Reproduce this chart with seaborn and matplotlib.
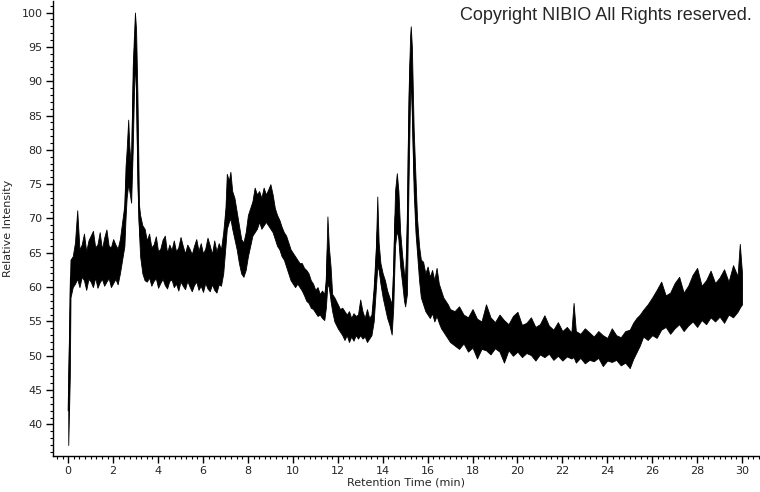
import numpy as np
import pandas as pd
import matplotlib
matplotlib.use("Agg")
import matplotlib.pyplot as plt
from matplotlib.ticker import MultipleLocator
import seaborn as sns

# retention time (min) and the lower / upper edge of the noisy trace
times = [0.0, 0.07, 0.1, 0.2, 0.3, 0.4, 0.5, 0.6, 0.7, 0.8, 0.9, 1.0, 1.1, 1.2, 1.3, 1.4, 1.5, 1.6, 1.7, 1.8,
         1.9, 2.0, 2.1, 2.2, 2.3, 2.4, 2.5, 2.55, 2.6, 2.67, 2.72, 2.8, 2.87, 2.93, 2.97, 3.02, 3.08, 3.15, 3.2, 3.3,
         3.4, 3.5, 3.6, 3.7, 3.8, 3.9, 4.0, 4.1, 4.2, 4.3, 4.4, 4.5, 4.6, 4.7, 4.8, 4.9, 5.0, 5.1, 5.2, 5.3,
         5.4, 5.5, 5.6, 5.7, 5.8, 5.9, 6.0, 6.1, 6.2, 6.3, 6.4, 6.5, 6.6, 6.7, 6.8, 6.9, 7.0, 7.06, 7.15, 7.22,
         7.3, 7.4, 7.5, 7.6, 7.7, 7.8, 7.9, 8.0, 8.1, 8.2, 8.3, 8.4, 8.5, 8.6, 8.7, 8.8, 8.9, 9.0, 9.1, 9.2,
         9.3, 9.4, 9.5, 9.6, 9.7, 9.8, 9.9, 10.0, 10.1, 10.2, 10.3, 10.4, 10.5, 10.6, 10.7, 10.8, 10.9, 11.0, 11.1, 11.2,
         11.3, 11.4, 11.47, 11.54, 11.6, 11.68, 11.75, 11.85, 12.0, 12.1, 12.2, 12.3, 12.4, 12.5, 12.6, 12.7, 12.8, 12.9, 13.0, 13.1,
         13.2, 13.3, 13.4, 13.5, 13.6, 13.7, 13.76, 13.82, 13.9, 14.0, 14.1, 14.2, 14.3, 14.4, 14.47, 14.55, 14.63, 14.7, 14.78, 14.87,
         14.95, 15.0, 15.08, 15.15, 15.22, 15.25, 15.3, 15.38, 15.46, 15.53, 15.62, 15.7, 15.8, 15.9, 16.0, 16.1, 16.2, 16.3, 16.4, 16.5,
         16.6, 16.7, 16.8, 16.9, 17.0, 17.2, 17.4, 17.6, 17.8, 18.0, 18.2, 18.4, 18.6, 18.8, 19.0, 19.2, 19.4, 19.6, 19.8, 20.0,
         20.2, 20.4, 20.6, 20.8, 21.0, 21.2, 21.4, 21.6, 21.8, 22.0, 22.2, 22.4, 22.5, 22.6, 22.8, 23.0, 23.2, 23.4, 23.6, 23.8,
         24.0, 24.2, 24.4, 24.6, 24.8, 25.0, 25.15, 25.3, 25.45, 25.6, 25.8, 26.0, 26.2, 26.4, 26.6, 26.8, 27.0, 27.2, 27.4, 27.6,
         27.8, 28.0, 28.2, 28.4, 28.6, 28.8, 29.0, 29.2, 29.4, 29.6, 29.8, 29.9, 30.0]

low = [37.0, 47.0, 58.5, 60.0, 60.5, 61.2, 60.0, 61.5, 61.0, 59.6, 61.2, 60.8, 60.0, 61.4, 59.9, 60.7, 61.2, 60.2, 60.8, 61.3,
       60.0, 60.6, 61.2, 60.4, 62.0, 64.0, 66.0, 70.0, 73.0, 75.0, 74.0, 72.3, 80.0, 89.0, 93.0, 88.0, 75.0, 68.0, 64.5, 62.0,
       61.0, 60.8, 61.4, 60.2, 60.9, 61.3, 59.9, 60.6, 61.2, 60.3, 59.8, 60.9, 61.1, 60.0, 60.5, 59.5, 60.8, 60.2, 59.7, 60.9,
       60.1, 59.4, 60.3, 60.8, 59.6, 60.2, 59.3, 60.6, 59.8, 59.4, 60.4, 59.6, 59.2, 60.4, 60.2, 62.0, 66.0, 68.5, 69.5, 70.0,
       68.5, 67.0, 65.5, 63.5, 62.0, 61.5, 62.5, 64.5, 66.0, 67.5, 68.0, 68.5, 69.5, 68.5, 69.0, 69.5, 69.0, 68.5, 68.0, 67.0,
       66.0, 65.5, 64.5, 64.0, 63.0, 62.0, 61.0, 60.5, 60.0, 60.5, 60.0, 59.5, 58.8, 58.0, 57.7, 57.0, 56.8, 56.3, 55.8, 56.0,
       55.5, 55.2, 57.0, 60.5, 60.0, 58.0, 56.5, 55.0, 54.0, 53.5, 53.0, 52.3, 53.0, 52.0, 52.8, 52.2, 53.0, 52.5, 53.0, 52.5,
       52.8, 52.0, 52.5, 53.0, 55.0, 60.0, 63.0, 62.5, 60.5, 58.5, 57.0, 55.5, 54.5, 53.1, 57.0, 66.0, 68.3, 67.0, 63.0, 60.5,
       58.0, 57.2, 59.0, 75.0, 88.0, 90.0, 85.0, 74.0, 68.0, 65.0, 61.0, 58.5, 57.5, 56.5, 56.0, 55.5, 56.2, 55.0, 55.8, 54.8,
       54.0, 53.5, 53.0, 52.5, 52.0, 51.5, 51.0, 51.8, 50.6, 51.2, 49.6, 51.0, 50.8, 50.2, 51.1, 50.6, 49.0, 50.8, 50.0, 50.6,
       49.8, 50.4, 50.1, 49.3, 50.2, 49.8, 50.3, 49.4, 50.0, 49.3, 49.9, 49.6, 49.8, 49.0, 49.7, 48.9, 49.4, 49.2, 49.7, 48.5,
       49.3, 49.1, 49.4, 48.6, 49.0, 48.2, 49.5, 50.5, 51.5, 52.8, 52.3, 53.0, 52.6, 53.8, 54.2, 53.2, 54.0, 54.6, 53.6, 54.4,
       55.0, 54.2, 55.2, 54.6, 55.6, 55.0, 55.7, 54.8, 56.0, 55.6, 56.4, 57.0, 57.5]

high = [47.0, 60.0, 64.0, 64.5, 66.5, 71.2, 65.5, 66.2, 67.8, 65.2, 66.8, 67.5, 68.2, 65.8, 66.2, 68.0, 65.5, 67.2, 68.4, 66.0,
        65.8, 67.0, 66.2, 65.6, 67.0, 69.5, 72.0, 77.5, 80.0, 84.4, 80.5, 77.0, 92.0, 97.0, 100.0, 97.5, 88.0, 72.0, 70.5, 69.0,
        68.5, 66.8, 67.8, 65.8, 66.2, 67.4, 65.2, 65.6, 66.9, 67.5, 65.0, 66.2, 65.4, 66.8, 65.2, 65.8, 67.3, 66.0, 64.9, 66.2,
        65.6, 64.8, 66.0, 67.0, 65.3, 66.4, 64.9, 65.6, 67.2, 66.1, 64.8, 66.8, 65.2, 66.4, 65.5, 68.0, 71.5, 76.5, 75.5, 76.8,
        74.0, 73.0, 71.0, 69.0, 67.0, 66.5, 68.0, 70.5, 71.5, 72.5, 74.5, 73.5, 74.0, 73.0, 74.5, 73.5, 74.2, 75.0, 73.5, 71.5,
        70.5, 69.8, 68.8, 68.0, 67.5, 66.5, 65.5, 65.0, 64.5, 64.0, 63.5, 63.5, 62.8, 62.5, 62.0, 61.0, 60.5, 59.6, 60.0, 59.0,
        59.5, 59.0, 61.0, 70.3, 66.0, 63.0, 59.0, 58.5, 57.5, 56.8, 57.0, 56.5, 56.0, 56.5, 55.5, 56.2, 55.8, 56.0, 58.2, 56.5,
        55.5, 56.8, 55.5, 56.0, 60.0, 66.0, 73.2, 66.5, 63.5, 62.0, 61.0, 59.5, 58.5, 57.5, 63.0, 74.0, 76.6, 74.0, 68.0, 64.5,
        62.0, 61.5, 70.0, 88.0, 96.5, 98.0, 95.0, 83.0, 76.0, 70.0, 66.0, 64.0, 63.7, 62.0, 63.0, 61.5, 62.5, 61.0, 62.8, 60.5,
        59.5, 58.5, 58.0, 57.5, 56.8, 56.5, 57.2, 56.0, 55.6, 56.8, 55.4, 55.0, 57.5, 55.6, 54.9, 56.0, 55.2, 54.6, 55.8, 56.4,
        54.5, 54.8, 55.6, 54.2, 54.6, 55.9, 54.4, 53.8, 54.9, 53.6, 54.2, 53.4, 57.7, 53.6, 53.2, 54.0, 53.4, 52.8, 53.6, 53.0,
        52.6, 54.0, 53.0, 52.7, 53.6, 53.8, 54.8, 55.5, 56.0, 56.7, 57.5, 58.5, 59.6, 60.8, 58.8, 59.2, 60.6, 61.5, 59.2, 60.2,
        61.8, 62.8, 60.2, 61.0, 62.4, 60.6, 61.4, 62.6, 60.8, 63.2, 61.6, 66.3, 62.0]

x_ticks = list(range(0, 31, 2))
y_ticks = list(range(40, 101, 5))

df = pd.concat([
    pd.DataFrame({"time": times, "intensity": low}),
    pd.DataFrame({"time": times, "intensity": high}),
], ignore_index=True)

sns.set_style("ticks")
plt.rcParams["font.family"] = ["DejaVu Sans"]

fig = plt.figure(figsize=(7.6, 4.92), dpi=100)
ax = fig.add_axes([0.0697, 0.0732, 0.9303, 0.925])

sns.lineplot(data=df, x="time", y="intensity", estimator="mean", errorbar=("pi", 100),
             color="black", linewidth=0.8, ax=ax,
             err_kws={"alpha": 1, "linewidth": 0.6, "edgecolor": "black", "facecolor": "black"})

ax.set_xlim(-0.68, 30.8)
ax.set_ylim(35.4, 101.7)
ax.set_xticks(x_ticks)
ax.set_yticks(y_ticks)
ax.xaxis.set_minor_locator(MultipleLocator(0.25))
ax.yaxis.set_minor_locator(MultipleLocator(1))
ax.tick_params(which="major", length=5, width=1, labelsize=8, color="black", pad=2.5)
ax.tick_params(which="minor", length=2.5, width=0.8, color="black")

sns.despine(ax=ax)
for s in ["left", "bottom"]:
    ax.spines[s].set_color("black")
    ax.spines[s].set_linewidth(1)

ax.set_xlabel("Retention Time (min)", fontsize=8, labelpad=1)
ax.set_ylabel("Relative Intensity", fontsize=8, labelpad=6)

fig.text(0.9895, 0.985, "Copyright NIBIO All Rights reserved.", ha="right", va="top",
         fontsize=13, family="Liberation Sans")

fig.savefig("out.png", dpi=100)
